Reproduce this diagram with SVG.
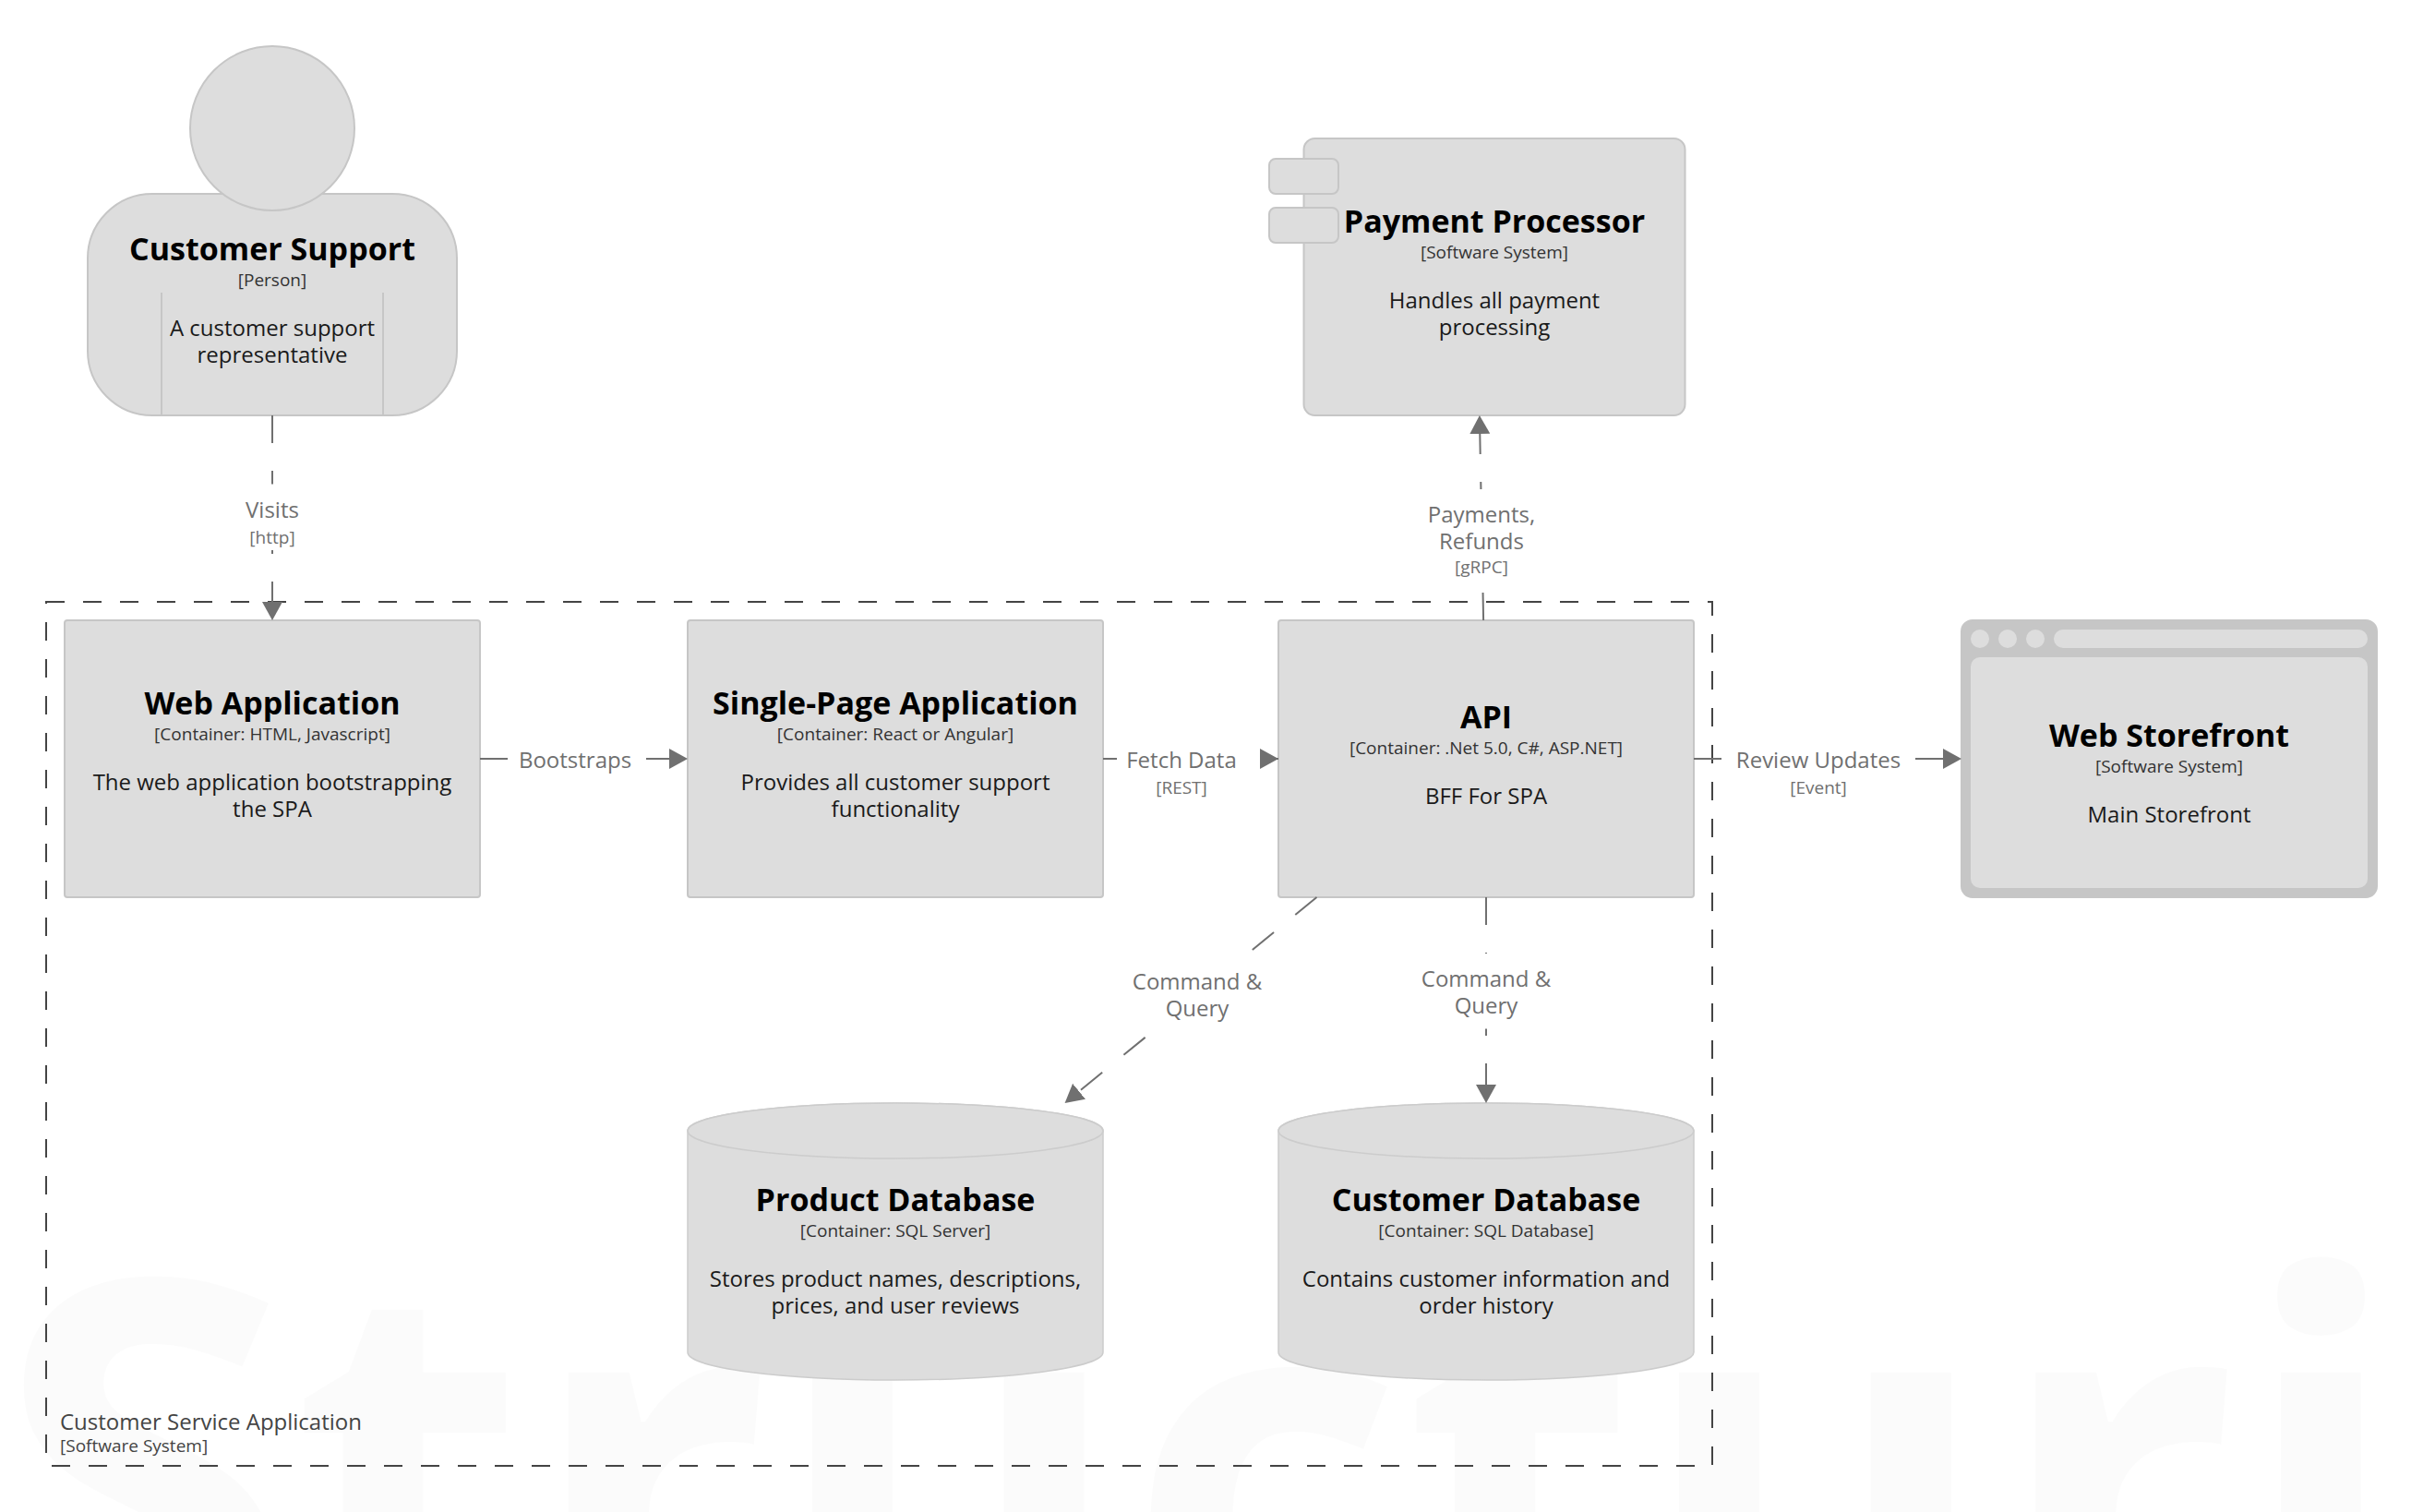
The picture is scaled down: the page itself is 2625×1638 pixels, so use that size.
<svg xmlns="http://www.w3.org/2000/svg" width="2625" height="1638" viewBox="0 0 2625 1638">
<style>
text{font-family:"Open Sans","Noto Sans","Liberation Sans",sans-serif;text-anchor:middle}
.el{fill:#dddddd;stroke:#c6c6c6;stroke-width:2}
.cy{fill:#dddddd;stroke:#cccccc;stroke-width:1.5}
.t{font-size:34px;font-weight:700;fill:#000}
.m{font-size:19px;fill:#333}
.d{font-size:24px;fill:#1a1a1a}
.ll{font-size:24px;fill:#707070}
.lm{font-size:19px;fill:#707070}
.c{fill:none;stroke:#707070;stroke-width:2;stroke-dasharray:30 30;marker-end:url(#arrow)}
.mask{fill:#fff}
</style>
<defs>
<marker id="arrow" markerUnits="userSpaceOnUse" markerWidth="20" markerHeight="22" refX="20" refY="11" orient="auto" viewBox="0 0 20 22"><path d="M0,0 L20,11 L0,22 Z" fill="#707070"/></marker>
</defs>
<rect width="2625" height="1638" fill="#fff"/>
<text id="watermark" x="-6" y="1806" style="font-size:585px;font-weight:700;text-anchor:start;fill:#000;fill-opacity:.015">Structuri</text>
<g id="boundary">
<rect x="50" y="652" width="1805" height="936" fill="none" stroke="#444" stroke-width="2" stroke-dasharray="20 20"/>
<text x="65" y="1549" style="text-anchor:start;font-size:24px;fill:#444">Customer Service Application</text>
<text x="65" y="1573" style="text-anchor:start;font-size:19px;fill:#444">[Software System]</text>
</g>
<g id="customer-support">
<rect class="el" x="95" y="210" width="400" height="240" rx="70" ry="70"/>
<circle class="el" cx="295" cy="139" r="89"/>
<path d="M175,317V450M415,317V450" stroke="#c6c6c6" stroke-width="2" fill="none"/>
<text class="t" x="295" y="282">Customer Support</text>
<text class="m" x="295" y="310">[Person]</text>
<text class="d" x="295" y="364">A customer support</text>
<text class="d" x="295" y="393">representative</text>
</g>
<g id="payment-processor">
<rect class="el" x="1412.5" y="150" width="413" height="300" rx="12"/>
<rect class="el" x="1375" y="172" width="75" height="38" rx="7"/>
<rect class="el" x="1375" y="225" width="75" height="38" rx="7"/>
<text class="t" x="1619" y="252">Payment Processor</text>
<text class="m" x="1619" y="280">[Software System]</text>
<text class="d" x="1619" y="334">Handles all payment</text>
<text class="d" x="1619" y="363">processing</text>
</g>
<g id="web-application">
<rect class="el" x="70" y="672" width="450" height="300" rx="3"/>
<text class="t" x="295" y="774">Web Application</text>
<text class="m" x="295" y="802">[Container: HTML, Javascript]</text>
<text class="d" x="295" y="856">The web application bootstrapping</text>
<text class="d" x="295" y="885">the SPA</text>
</g>
<g id="single-page-application">
<rect class="el" x="745" y="672" width="450" height="300" rx="3"/>
<text class="t" x="970" y="774">Single-Page Application</text>
<text class="m" x="970" y="802">[Container: React or Angular]</text>
<text class="d" x="970" y="856">Provides all customer support</text>
<text class="d" x="970" y="885">functionality</text>
</g>
<g id="api">
<rect class="el" x="1385" y="672" width="450" height="300" rx="3"/>
<text class="t" x="1610" y="789">API</text>
<text class="m" x="1610" y="817">[Container: .Net 5.0, C#, ASP.NET]</text>
<text class="d" x="1610" y="871">BFF For SPA</text>
</g>
<g id="web-storefront">
<rect x="2125" y="672" width="450" height="300" rx="12" fill="#c6c6c6" stroke="#c6c6c6" stroke-width="2"/>
<rect x="2135" y="712" width="430" height="250" rx="10" fill="#dddddd"/>
<circle cx="2145" cy="692" r="10" fill="#dddddd"/>
<circle cx="2175" cy="692" r="10" fill="#dddddd"/>
<circle cx="2205" cy="692" r="10" fill="#dddddd"/>
<rect x="2225" y="682" width="340" height="20" rx="10" fill="#dddddd"/>
<text class="t" x="2350" y="809">Web Storefront</text>
<text class="m" x="2350" y="837">[Software System]</text>
<text class="d" x="2350" y="891">Main Storefront</text>
</g>
<g id="product-database">
<path class="cy" d="M745,1225V1465A225,30 0 0 0 1195,1465V1225A225,30 0 0 0 745,1225Z"/>
<ellipse class="cy" cx="970" cy="1225" rx="225" ry="30"/>
<text class="t" x="970" y="1312">Product Database</text>
<text class="m" x="970" y="1340">[Container: SQL Server]</text>
<text class="d" x="970" y="1394">Stores product names, descriptions,</text>
<text class="d" x="970" y="1423">prices, and user reviews</text>
</g>
<g id="customer-database">
<path class="cy" d="M1385,1225V1465A225,30 0 0 0 1835,1465V1225A225,30 0 0 0 1385,1225Z"/>
<ellipse class="cy" cx="1610" cy="1225" rx="225" ry="30"/>
<text class="t" x="1610" y="1312">Customer Database</text>
<text class="m" x="1610" y="1340">[Container: SQL Database]</text>
<text class="d" x="1610" y="1394">Contains customer information and</text>
<text class="d" x="1610" y="1423">order history</text>
</g>
<g id="connectors">
<g id="c-visits">
<path class="c" d="M295,450V672"/>
<rect class="mask" x="255" y="524.5" width="80" height="71.5"/>
<text class="ll" x="295" y="561">Visits</text>
<text class="lm" x="295" y="589">[http]</text>
</g>
<g id="c-payments">
<path class="c" d="M1607.1,672L1602.9,450"/>
<rect class="mask" x="1540" y="530" width="130" height="112"/>
<text class="ll" x="1605" y="566">Payments,</text>
<text class="ll" x="1605" y="595">Refunds</text>
<text class="lm" x="1605" y="621">[gRPC]</text>
</g>
<g id="c-bootstraps">
<path class="c" d="M520,822H745"/>
<rect class="mask" x="552" y="795" width="146" height="54"/>
<text class="ll" x="623" y="832">Bootstraps</text>
</g>
<g id="c-fetch">
<path class="c" d="M1195,822H1385"/>
<rect class="mask" x="1210" y="795" width="140" height="76"/>
<text class="ll" x="1280" y="832">Fetch Data</text>
<text class="lm" x="1280" y="860">[REST]</text>
</g>
<g id="c-review">
<path class="c" d="M1835,822H2125"/>
<rect class="mask" x="1868" y="795" width="204" height="76"/>
<text class="ll" x="1970" y="832">Review Updates</text>
<text class="lm" x="1970" y="860">[Event]</text>
</g>
<g id="c-query-product">
<path class="c" d="M1426.5,972L1153.6,1195"/>
<rect class="mask" x="1225" y="1038" width="144" height="78"/>
<text class="ll" x="1297" y="1072">Command &amp;</text>
<text class="ll" x="1297" y="1101">Query</text>
</g>
<g id="c-query-customer">
<path class="c" d="M1610,972V1195"/>
<rect class="mask" x="1538" y="1033" width="144" height="81.5"/>
<text class="ll" x="1610" y="1069">Command &amp;</text>
<text class="ll" x="1610" y="1098">Query</text>
</g>
</g>
</svg>
